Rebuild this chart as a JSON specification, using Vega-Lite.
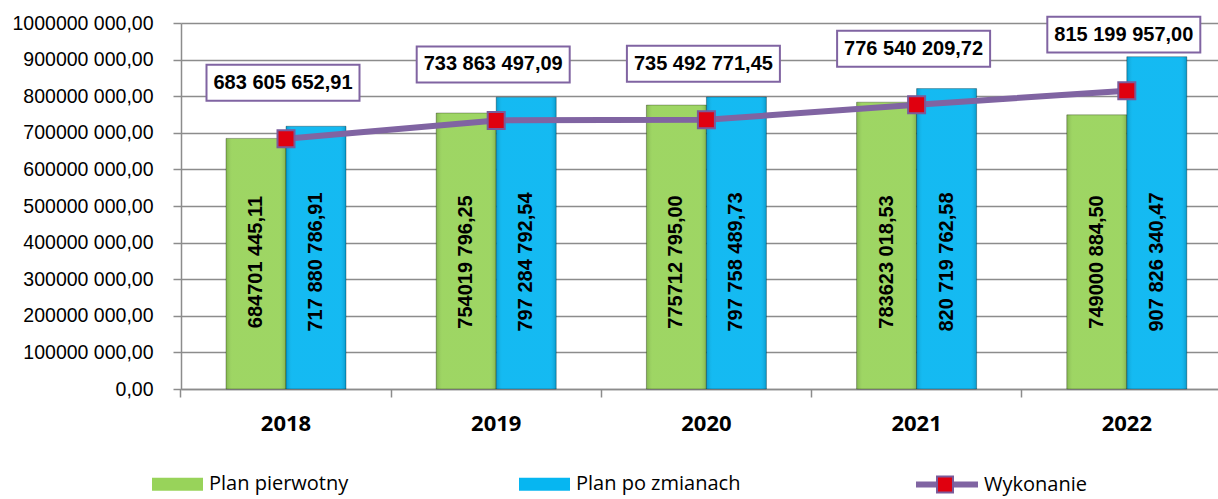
{
  "$schema": "https://vega.github.io/schema/vega-lite/v6.json",
  "autosize": {"type": "none"},
  "padding": {"left": 181, "top": 23, "right": 0, "bottom": 110},
  "width": 1037,
  "height": 366,
  "background": "white",
  "config": {
    "view": {"stroke": null},
    "font": "Liberation Sans"
  },
  "datasets": {
    "bars": [
      {"year": "2018", "series": "Plan pierwotny", "value": 684701445.11, "label": "684701 445,11"},
      {"year": "2018", "series": "Plan po zmianach", "value": 717880786.91, "label": "717 880 786,91"},
      {"year": "2019", "series": "Plan pierwotny", "value": 754019796.25, "label": "754019 796,25"},
      {"year": "2019", "series": "Plan po zmianach", "value": 797284792.54, "label": "797 284 792,54"},
      {"year": "2020", "series": "Plan pierwotny", "value": 775712795.00, "label": "775712 795,00"},
      {"year": "2020", "series": "Plan po zmianach", "value": 797758489.73, "label": "797 758 489,73"},
      {"year": "2021", "series": "Plan pierwotny", "value": 783623018.53, "label": "783623 018,53"},
      {"year": "2021", "series": "Plan po zmianach", "value": 820719762.58, "label": "820 719 762,58"},
      {"year": "2022", "series": "Plan pierwotny", "value": 749000884.50, "label": "749000 884,50"},
      {"year": "2022", "series": "Plan po zmianach", "value": 907826340.47, "label": "907 826 340,47"}
    ],
    "line": [
      {"year": "2018", "value": 683605652.91, "label": "683 605 652,91", "s1": "Wykonanie", "s2": "znacznik"},
      {"year": "2019", "value": 733863497.09, "label": "733 863 497,09", "s1": "Wykonanie", "s2": "znacznik"},
      {"year": "2020", "value": 735492771.45, "label": "735 492 771,45", "s1": "Wykonanie", "s2": "znacznik"},
      {"year": "2021", "value": 776540209.72, "label": "776 540 209,72", "s1": "Wykonanie", "s2": "znacznik"},
      {"year": "2022", "value": 815199957.00, "label": "815 199 957,00", "s1": "Wykonanie", "s2": "znacznik"}
    ]
  },
  "encoding": {
    "x": {
      "field": "year",
      "type": "nominal",
      "title": null,
      "scale": {"paddingInner": 0.3, "paddingOuter": 0.1167, "align": 0.6407},
      "axis": {
        "labelAngle": 0,
        "labelFont": "Open Sans",
        "labelFontWeight": "bold",
        "labelFontSize": 22,
        "labelColor": "#000000",
        "labelPadding": 16,
        "tickSize": 8,
        "tickColor": "#8c8c8c",
        "tickWidth": 1.5,
        "bandPosition": -0.214,
        "domainColor": "#8c8c8c",
        "domainWidth": 1.5,
        "grid": false
      }
    },
    "y": {
      "field": "value",
      "type": "quantitative",
      "title": null,
      "scale": {"domain": [0, 1000000000], "nice": false, "zero": true},
      "axis": {
        "values": [0, 100000000, 200000000, 300000000, 400000000, 500000000, 600000000, 700000000, 800000000, 900000000, 1000000000],
        "labelExpr": "datum.value == 0 ? '0,00' : (datum.value / 1000) + ' 000,00'",
        "labelOverlap": false,
        "labelFont": "Liberation Sans",
        "labelFontSize": 19.5,
        "labelColor": "#000000",
        "labelPadding": 20,
        "tickSize": 8,
        "tickColor": "#8c8c8c",
        "tickWidth": 1.5,
        "domainColor": "#8c8c8c",
        "domainWidth": 1.5,
        "gridColor": "#8c8c8c",
        "gridWidth": 1.5
      }
    }
  },
  "layer": [
    {
      "data": {"name": "bars"},
      "mark": {"type": "bar", "stroke": "rgba(0,0,0,0.3)", "strokeWidth": 1},
      "encoding": {
        "xOffset": {"field": "series", "type": "nominal", "sort": ["Plan pierwotny", "Plan po zmianach"], "scale": {"paddingInner": 0, "paddingOuter": 0.226}},
        "color": {
          "field": "series",
          "type": "nominal",
          "scale": {"domain": ["Plan pierwotny", "Plan po zmianach"], "range": ["#98d35a", "#06b6f1"]},
          "legend": {
            "orient": "none",
            "legendX": -29,
            "legendY": 435.5,
            "direction": "horizontal",
            "title": null,
            "symbolType": "M-1,-0.255H1V0.255H-1Z",
            "symbolSize": 2601,
            "symbolStrokeWidth": 0,
            "labelFont": "Open Sans",
            "labelFontSize": 20,
            "labelColor": "#000000",
            "labelOffset": 6,
            "labelLimit": 400,
            "columnPadding": 170
          }
        }
      }
    },
    {
      "data": {"name": "bars"},
      "mark": {
        "type": "bar",
        "fill": {"gradient": "linear", "x1": 0, "x2": 1, "y1": 0, "y2": 0, "stops": [
          {"offset": 0, "color": "rgba(0,0,0,0.14)"},
          {"offset": 0.1, "color": "rgba(255,255,255,0.06)"},
          {"offset": 0.9, "color": "rgba(255,255,255,0.06)"},
          {"offset": 1, "color": "rgba(0,0,0,0.16)"}
        ]}
      },
      "encoding": {
        "xOffset": {"field": "series", "type": "nominal", "sort": ["Plan pierwotny", "Plan po zmianach"]}
      }
    },
    {
      "data": {"name": "bars"},
      "mark": {"type": "text", "angle": 270, "font": "Liberation Sans", "fontWeight": "bold", "fontSize": 20, "color": "#000000", "align": "center", "baseline": "middle"},
      "encoding": {
        "xOffset": {"field": "series", "type": "nominal", "sort": ["Plan pierwotny", "Plan po zmianach"]},
        "y": {"datum": 347000000, "type": "quantitative"},
        "text": {"field": "label"}
      }
    },
    {
      "data": {"name": "line"},
      "mark": {"type": "line", "strokeWidth": 6},
      "encoding": {
        "stroke": {
          "field": "s1",
          "type": "nominal",
          "scale": {"domain": ["Wykonanie"], "range": ["#8064a2"]},
          "legend": {
            "orient": "none",
            "legendX": 732,
            "legendY": 427.5,
            "title": null,
            "symbolType": "stroke",
            "symbolSize": 3844,
            "symbolStrokeWidth": 6,
            "labelFont": "Open Sans",
            "labelFontSize": 20,
            "labelColor": "#000000",
            "labelOffset": 3,
            "labelLimit": 400
          }
        }
      }
    },
    {
      "data": {"name": "line"},
      "mark": {"type": "point", "shape": "square", "filled": true, "size": 289, "stroke": "#7a5a9a", "strokeWidth": 2, "opacity": 1},
      "encoding": {
        "fill": {
          "field": "s2",
          "type": "nominal",
          "scale": {"domain": ["znacznik"], "range": ["#e0000f"]},
          "legend": {
            "orient": "none",
            "legendX": 754,
            "legendY": 451.5,
            "title": null,
            "symbolType": "square",
            "symbolSize": 256,
            "symbolStrokeColor": "#7a5a9a",
            "symbolStrokeWidth": 2,
            "labelExpr": "''",
            "labelFontSize": 20
          }
        }
      }
    },
    {
      "data": {"name": "line"},
      "mark": {"type": "point", "shape": "M-1,-0.235H1V0.235H-1Z", "size": 23409, "filled": true, "fill": "#ffffff", "stroke": "#8064a2", "strokeWidth": 2, "opacity": 1, "yOffset": -56, "xOffset": -3},
      "encoding": {}
    },
    {
      "data": {"name": "line"},
      "mark": {"type": "text", "font": "Liberation Sans", "fontWeight": "bold", "fontSize": 20, "color": "#000000", "align": "center", "baseline": "middle", "yOffset": -56, "xOffset": -3},
      "encoding": {
        "text": {"field": "label"}
      }
    }
  ]
}
